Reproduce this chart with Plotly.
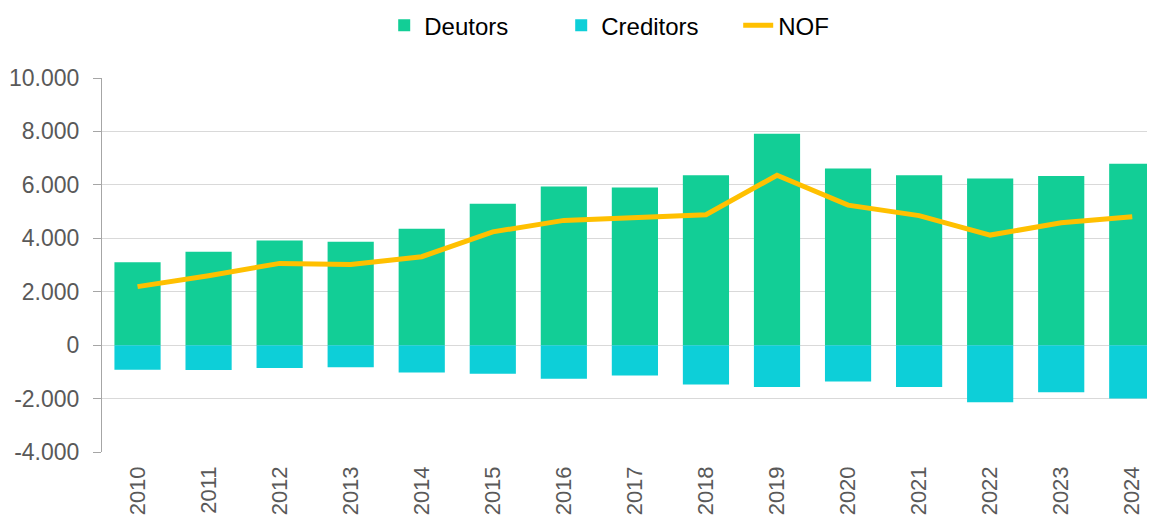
import plotly.graph_objects as go

years = ["2010", "2011", "2012", "2013", "2014", "2015", "2016", "2017",
         "2018", "2019", "2020", "2021", "2022", "2023", "2024"]
deutors = [3100, 3500, 3920, 3870, 4360, 5290, 5940, 5900, 6360, 7910, 6610, 6360, 6240, 6330, 6790]
creditors = [-920, -935, -860, -825, -1020, -1070, -1260, -1135, -1470, -1570, -1360, -1570, -2135, -1760, -2000]
nof = [2190, 2600, 3060, 3020, 3310, 4240, 4670, 4780, 4880, 6360, 5240, 4850, 4120, 4580, 4810]

y_ticks = [-4000, -2000, 0, 2000, 4000, 6000, 8000, 10000]
y_ticktext = ["-4.000", "-2.000", "0", "2.000", "4.000", "6.000", "8.000", "10.000"]

FONT = "Liberation Sans, Arial, sans-serif"

fig = go.Figure()
fig.add_trace(go.Bar(x=years, y=deutors, name="Deutors", marker_color="#12CE96",
                     marker_line_width=0, width=0.65))
fig.add_trace(go.Bar(x=years, y=creditors, name="Creditors", marker_color="#0DCFD8",
                     marker_line_width=0, width=0.65))
fig.add_trace(go.Scatter(x=years, y=nof, name="NOF", mode="lines",
                         line=dict(color="#FFC000", width=5)))

fig.update_layout(
    barmode="relative",
    width=1147, height=510,
    margin=dict(l=94, r=0, t=70, b=66, autoexpand=False),
    paper_bgcolor="white", plot_bgcolor="white",
    font=dict(family=FONT, size=23, color="#595959"),
    legend=dict(orientation="h", x=0.268, xanchor="left", y=1.14, yanchor="middle",
                font=dict(size=24, color="#000000"), traceorder="normal",
                entrywidth=132, entrywidthmode="pixels",
                bgcolor="rgba(0,0,0,0)"),
    showlegend=True,
)
fig.update_xaxes(type="category", range=[-0.5, 14.32], tickangle=-90,
                 showgrid=False, showline=False, ticks="", automargin=False,
                 ticklabelstandoff=9,
                 tickfont=dict(size=22, color="#595959"))
fig.update_yaxes(range=[-4000, 10000], tickvals=y_ticks, ticktext=y_ticktext,
                 showgrid=True, gridcolor="#D9D9D9", gridwidth=1,
                 showline=True, linecolor="#A6A6A6", linewidth=1,
                 ticks="outside", ticklen=8, tickcolor="#A6A6A6",
                 zeroline=False, automargin=False, ticklabelstandoff=9,
                 tickfont=dict(size=23, color="#595959"))

fig.write_html("out.html")
